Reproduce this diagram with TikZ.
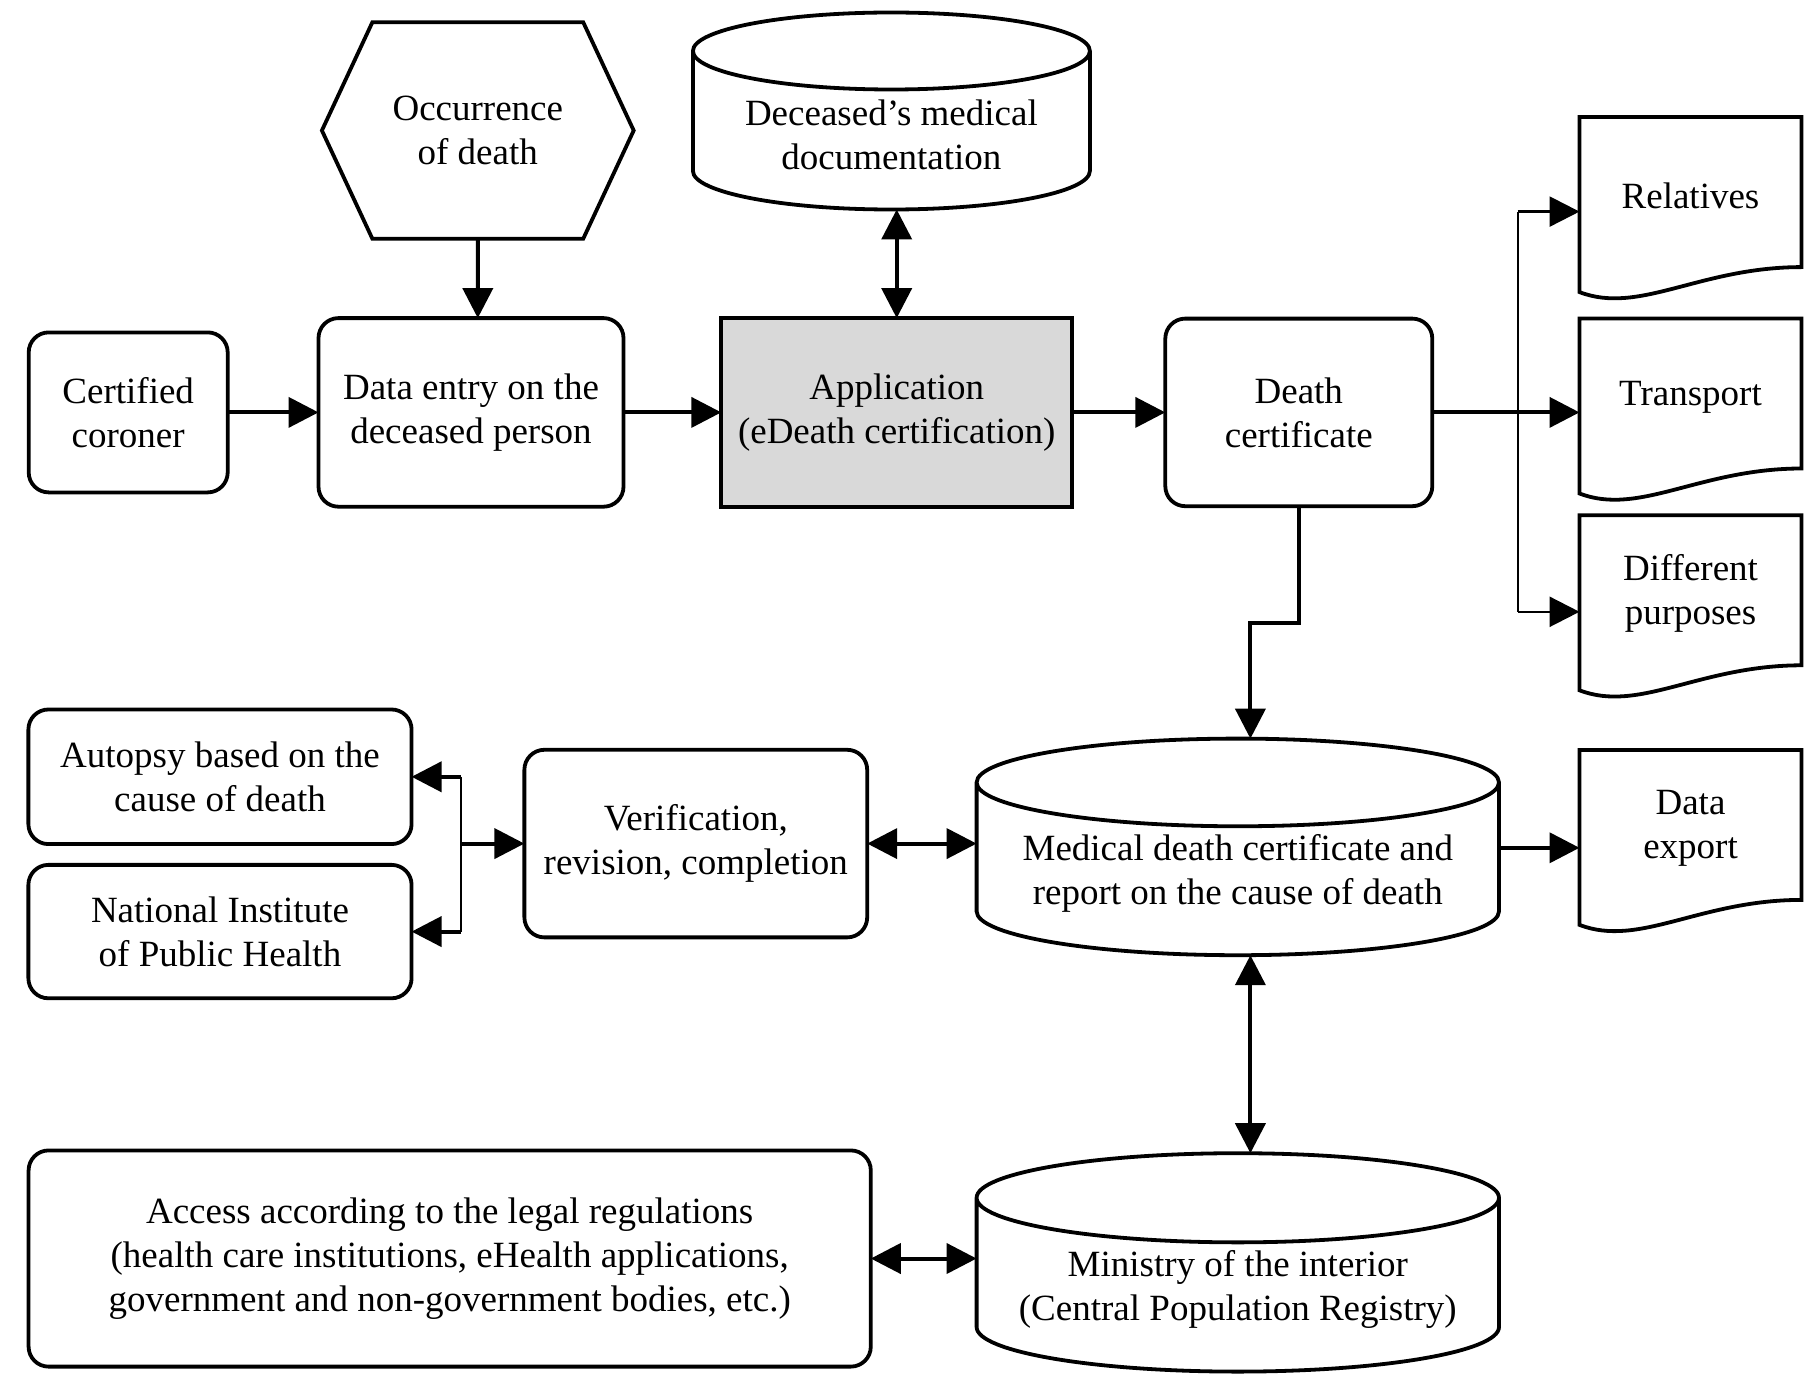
\documentclass[tikz,border=0pt]{standalone}
\usepackage{fontspec}
\setmainfont{Liberation Serif}
\usetikzlibrary{shapes,arrows.meta,positioning,calc}

\begin{document}
\begin{tikzpicture}[box/.style={draw, rounded corners=10pt, align=center, inner sep=2pt, outer sep=0pt, line width=1.9pt},
  appbox/.style={draw, fill=black!15, align=center, inner sep=2pt, outer sep=0pt, line width=1.9pt},
  store/.style={cylinder, shape border rotate=90, shape aspect=0.2, draw, align=center, inner sep=2pt, outer sep=0pt, line width=1.9pt},
  doc/.style={align=center, inner sep=2pt, outer sep=0pt, minimum width=111pt, minimum height=78.5pt},
  hexa/.style={signal, signal to=east and west, signal pointer angle=130, draw, align=center, inner sep=2pt, outer sep=0pt, line width=1.9pt},
  font=\fontsize{18.5}{22}\selectfont, line width=2pt, >={Triangle[length=15pt,width=15pt]}]

		\useasboundingbox (0,0) rectangle (902pt,-687.5pt);
		\clip (0,0) rectangle (902pt,-687.5pt);

		% main row
		\node[box, minimum width=99.5pt, minimum height=80pt] (coroner) at (64.1pt,-206.2pt) {Certified\\coroner};
		\node[box, right=45.4pt of coroner, minimum width=152.5pt, minimum height=94.3pt] (entry) {Data entry on the\\deceased person};
		\node[appbox, right=48.9pt of entry, minimum width=175.4pt, minimum height=94.3pt] (app) {Application\\(eDeath certification)};
		\node[box, right=46.6pt of app, minimum width=133.5pt, minimum height=93.8pt] (deathcert) {Death\\certificate};
		\node[doc, right=73.6pt of deathcert, yshift=7.7pt] (transport) {Transport};
		\node[doc, above=22.2pt of transport] (relatives) {Relatives};
		\node[doc, below=19.9pt of transport] (purposes) {Different\\purposes};
		\node[doc, below=38.8pt of purposes] (export) {Data\\export};

		% top row
		\node[hexa, above=39.7pt of entry, xshift=3.4pt, minimum width=155.9pt, minimum height=108.2pt] (occur) {Occurrence\\of death};
		\node[store, shape aspect=0.256, above=54.3pt of app, xshift=-2.65pt, minimum width=198.5pt, minimum height=98.5pt] (meddoc) {Deceased’s medical\\documentation};

		% lower part
		\node[store, below=116.2pt of deathcert, xshift=-30.5pt, minimum width=261.2pt, minimum height=108.3pt] (medcert) {Medical death certificate and\\report on the cause of death};
		\node[store, below=99pt of medcert, minimum width=261.2pt, minimum height=109.2pt] (ministry) {Ministry of the interior\\(Central Population Registry)};
		\node[box, left=54.7pt of medcert, yshift=15pt, minimum width=171.4pt, minimum height=93.8pt] (verif) {Verification,\\revision, completion};
		\node[box, left=56.4pt of verif, yshift=33.4pt, minimum width=191.6pt, minimum height=67.3pt] (autopsy) {Autopsy based on the\\cause of death};
		\node[box, below=10.4pt of autopsy, minimum width=191.6pt, minimum height=66.7pt] (niph) {National Institute\\of Public Health};
		\node[box, left=52.9pt of ministry, yshift=15.5pt, minimum width=421.1pt, minimum height=108.1pt] (access) {Access according to the legal regulations\\(health care institutions, eHealth applications,\\government and non-government bodies, etc.)};

		% document outlines
		\foreach \d in {relatives,transport,purposes,export}
			\draw[line width=1.9pt] (\d.north west) -- ([yshift=-9pt]\d.south west) .. controls +(30pt,-11.5pt) and +(-51pt,0pt) .. ([yshift=3.5pt]\d.south east) -- (\d.north east) -- cycle;

		\coordinate (split) at ($(deathcert.east)!0.58!(transport.west)$);
		\coordinate (join) at ($(verif.west)+(-31.6pt,0)$);

		\draw[->] (occur) -- (occur |- entry.north);
		\draw[->] (coroner) -- (entry);
		\draw[->] (entry) -- (app);
		\draw[<->] (app.north |- meddoc.south) -- (app.north);
		\draw[->] (app) -- (deathcert);
		\draw[->] (deathcert.east) -- (deathcert.east -| transport.west);
		\draw[line width=0.9pt] ([yshift=-8pt]relatives.west -| split) -- ([yshift=-9pt]purposes.west -| split);
		\draw[->,line width=1.3pt] ([yshift=-8pt]relatives.west -| split) -- ([yshift=-8pt]relatives.west);
		\draw[->,line width=1.3pt] ([yshift=-9pt]purposes.west -| split) -- ([yshift=-9pt]purposes.west);
		\draw[->] (deathcert.south) -- ++(0,-58.6pt) -| ([xshift=6.3pt]medcert.north);
		\draw[->] ([yshift=-9.7pt]export.west -| medcert.east) -- ([yshift=-9.7pt]export.west);
		\draw[<->] (verif.east) -- (verif.east -| medcert.west);
		\draw[->] (join) -- (verif);
		\draw[line width=0.9pt] (join |- autopsy) -- (join |- niph);
		\draw[->] (join |- autopsy) -- (autopsy);
		\draw[->] (join |- niph) -- (niph);
		\draw[<->] ([xshift=6.3pt]medcert.south) -- ([xshift=6.3pt]ministry.north);
		\draw[<->] (access.east) -- (access.east -| ministry.west);

\end{tikzpicture}
\end{document}
